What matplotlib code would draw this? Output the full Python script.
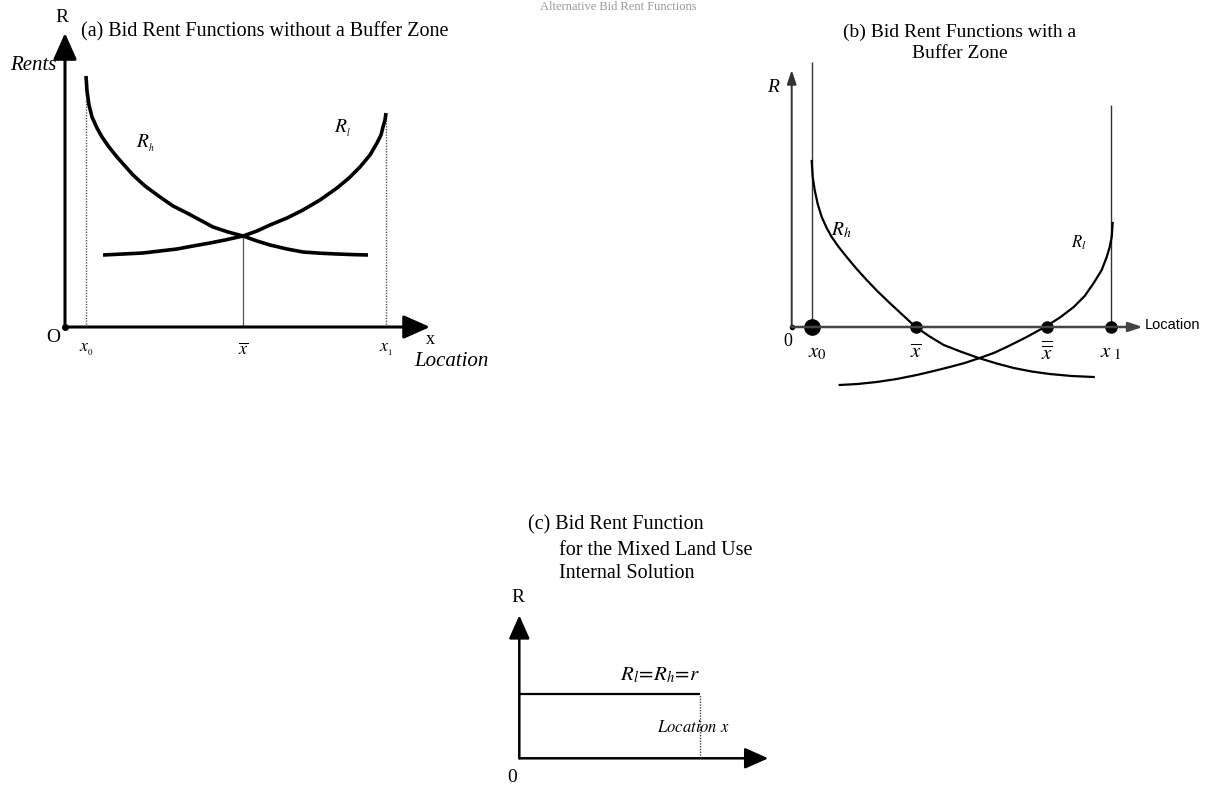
"""Bid rent functions with and without a buffer zone (three sketch panels)."""

import matplotlib

matplotlib.use("Agg")
import matplotlib.pyplot as plt

plt.rcParams["font.family"] = ["Liberation Serif", "DejaVu Serif"]
plt.rcParams["mathtext.fontset"] = "stix"

W, H, DPI = 1222, 789, 100

# ---- panel (a): no buffer zone (location, rent in sketch units, origin at O)
A_RH_LOC = [21, 22, 24, 27, 32, 37, 44, 52, 60, 68, 80, 95, 108, 122, 135, 148, 163, 178,
            192, 205, 222, 238, 255, 272, 288, 303]
A_RH_RENT = [251, 236, 222, 210, 199, 190, 180, 170, 161, 152, 141, 130, 121, 114, 107, 100,
             95, 91, 86, 82, 78, 75, 73.8, 73, 72.4, 72]
A_RL_LOC = [38, 58, 78, 95, 112, 128, 145, 160, 178, 192, 205, 222, 238, 255, 272, 284, 295,
            305, 312, 316, 318, 320, 321]
A_RL_RENT = [72, 73, 74, 76, 78, 81, 84, 87, 91, 96, 102, 109, 117, 127, 139, 149, 160, 172,
             184, 192, 200, 207, 214]
A_X0, A_XBAR, A_X1 = 21, 178, 321
A_TICK_LABELS = [r"$x_{_0}$", r"$\overline{x}$", r"$x_{_1}$"]

# ---- panel (b): with a buffer zone
B_RH_LOC = [20, 21, 23, 26, 30, 35, 40, 47, 55, 65, 75, 86, 98, 111, 124, 138, 152, 170, 187,
            205, 222, 240, 258, 280, 302]
B_RH_RENT = [166, 150, 137, 123, 110, 99, 90, 80, 70, 58, 47, 35.5, 24, 12, 0, -9.5, -18, -25,
             -31, -36.5, -41, -44.5, -47, -49, -50]
B_RL_LOC = [48, 66, 85, 105, 125, 142, 158, 173, 188, 202, 215, 235, 255, 269, 282, 293, 302,
            310, 315, 318, 320, 321]
B_RL_RENT = [-58, -57, -55, -52, -48, -44, -40, -36, -31, -26, -20, -10, 1, 10, 20, 31, 44,
             57, 70, 80, 90, 104]
B_TICKS = [20, 124, 255, 319]
B_TICK_LABELS = [r"$x_0$", r"$\overline{x}$", r"$\overline{\overline{x}}$", r"$x_{\ 1}$"]
B_X0_TOP, B_X1_TOP = 265, 222

# ---- panel (c): mixed land use internal solution
C_RENT = 64
C_LOC_END = 181


def panel(fig, origin, xlim, ylim):
    """Axes where one data unit is one pixel, with (0, 0) at the pixel origin."""
    ox, oy = origin
    rect = [
        (ox + xlim[0]) / W,
        (H - oy + ylim[0]) / H,
        (xlim[1] - xlim[0]) / W,
        (ylim[1] - ylim[0]) / H,
    ]
    ax = fig.add_axes(rect)
    ax.set_xlim(*xlim)
    ax.set_ylim(*ylim)
    ax.axis("off")
    return ax


def arrow(ax, tip, lw, head, scale, color="black"):
    ax.annotate(
        "",
        xy=tip,
        xytext=(0, 0),
        arrowprops=dict(
            arrowstyle=f"-|>,head_length={head[0]},head_width={head[1]}",
            lw=lw,
            color=color,
            mutation_scale=scale,
            shrinkA=0,
            shrinkB=0,
        ),
    )


fig = plt.figure(figsize=(W / DPI, H / DPI), dpi=DPI)

fig.text(618 / W, 0.999, "Alternative Bid Rent Functions", ha="center", va="top",
         fontsize=9, color="#999999")

# ---------------- (a)
ax = panel(fig, (65, 327), (-70, 440), (-60, 330))
arrow(ax, (0, 294), 2.2, (0.9, 0.4), 18)
arrow(ax, (365, 0), 2.2, (0.9, 0.4), 18)
ax.vlines([A_X0], 0, A_RH_RENT[0], colors="#555555", lw=1.0, linestyles=(0, (1, 1)))
ax.vlines([A_X1], 0, A_RL_RENT[-1], colors="#555555", lw=1.0, linestyles=(0, (1, 1)))
ax.vlines([A_XBAR], 0, 91, colors="#555555", lw=0.9)
ax.plot(A_RH_LOC, A_RH_RENT, color="black", lw=2.6, solid_joinstyle="round", solid_capstyle="butt")
ax.plot(A_RL_LOC, A_RL_RENT, color="black", lw=2.6, solid_joinstyle="round", solid_capstyle="butt")
ax.plot([0], [0], "o", color="black", ms=4)
for loc, lab in zip([A_X0, A_XBAR, A_X1], A_TICK_LABELS):
    ax.text(loc, -23, lab, ha="center", va="center", fontsize=13)
ax.text(-3, 309, "R", ha="center", va="center", fontsize=14)
ax.text(16, 295, "(a) Bid Rent Functions without a Buffer Zone", ha="left", va="center",
        fontsize=14.5)
ax.text(-32, 261, "Rents", ha="center", va="center", fontsize=15, style="italic")
ax.text(-12, -10, "O", ha="center", va="center", fontsize=14)
ax.text(365, -13, "x", ha="center", va="center", fontsize=13)
ax.text(386, -35, "Location", ha="center", va="center", fontsize=15, style="italic")
ax.text(80, 184, r"$R_{_h}$", ha="center", va="center", fontsize=14)
ax.text(278, 199, r"$R_{_l}$", ha="center", va="center", fontsize=14)

# ---------------- (b)
ax = panel(fig, (791.7, 327), (-50, 430), (-70, 330))
arrow(ax, (0, 257), 1.4, (0.6, 0.2), 14, color="#333333")
arrow(ax, (351, 0), 1.8, (0.6, 0.2), 14, color="#444444")
ax.vlines([B_TICKS[0]], 0, B_X0_TOP, colors="#333333", lw=1.0)
ax.vlines([B_TICKS[-1]], 0, B_X1_TOP, colors="#333333", lw=1.0)
ax.plot(B_RH_LOC, B_RH_RENT, color="black", lw=1.6, solid_joinstyle="round")
ax.plot(B_RL_LOC, B_RL_RENT, color="black", lw=1.6, solid_joinstyle="round")
ax.plot([0], [0], "o", color="black", ms=3)
ax.plot(B_TICKS[:1], [0], "o", color="black", ms=11)
ax.plot(B_TICKS[1:], [0] * 3, "o", color="black", ms=8)
for loc, lab in zip(B_TICKS, B_TICK_LABELS):
    ax.text(loc + (6 if loc == B_TICKS[0] else 0), -26, lab, ha="center", va="center", fontsize=15)
ax.text(168, 295, "(b) Bid Rent Functions with a", ha="center", va="center", fontsize=14)
ax.text(168, 274, "Buffer Zone", ha="center", va="center", fontsize=14)
ax.text(-19, 240, "R", ha="center", va="center", fontsize=14, style="italic")
ax.text(-4, -14, "0", ha="center", va="center", fontsize=13)
ax.text(353, 2, "Location", ha="left", va="center", fontsize=10.5, family="Liberation Sans")
ax.text(50, 97, r"$R_h$", ha="center", va="center", fontsize=14)
ax.text(287, 84, r"$R_l$", ha="center", va="center", fontsize=12)

# ---------------- (c)
ax = panel(fig, (519.3, 758.3), (-30, 270), (-40, 250))
arrow(ax, (0, 143), 1.8, (0.9, 0.4), 16)
arrow(ax, (249, 0), 1.8, (0.9, 0.4), 16)
ax.hlines([C_RENT], 0, C_LOC_END, colors="black", lw=1.6)
ax.vlines([C_LOC_END], 0, C_RENT, colors="#444444", lw=1.0, linestyles=(0, (1, 1)))
ax.text(9, 233, "(c) Bid Rent Function", ha="left", va="center", fontsize=14.5)
ax.text(40, 208, "for the Mixed Land Use", ha="left", va="center", fontsize=14.5)
ax.text(40, 185, "Internal Solution", ha="left", va="center", fontsize=14.5)
ax.text(-1, 161, "R", ha="center", va="center", fontsize=14)
ax.text(-7, -19, "0", ha="center", va="center", fontsize=14)
ax.text(141, 83, r"$R_l\!=\!R_h\!=\!r$", ha="center", va="center", fontsize=15)
ax.text(174, 30, r"$Location\ x$", ha="center", va="center", fontsize=12)

fig.savefig("out.png", dpi=DPI)
